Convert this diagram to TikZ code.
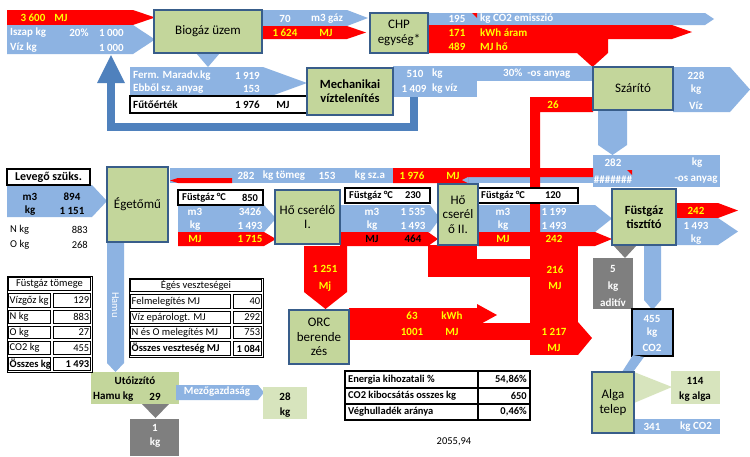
\documentclass[tikz,border=0pt]{standalone}
\usepackage{fontspec}
\setmainfont{Carlito}
\definecolor{FlowBlue}{HTML}{8DB3E2}
\definecolor{FlowRed}{HTML}{FF0000}
\definecolor{BoxFill}{HTML}{C3D69B}
\definecolor{BoxEdge}{HTML}{385D8A}
\definecolor{LoopBlue}{HTML}{4F81BD}
\definecolor{PaleGreen}{HTML}{D7E4BD}
\definecolor{AshGray}{HTML}{7F7F7F}
\definecolor{TextYellow}{HTML}{FFFF00}
\newcommand\flowR[6]{\fill[#1] (#2,#3) -- (#4,#3) -- (#6,{(#3+#5)/2}) -- (#4,#5) -- (#2,#5) -- cycle;}
\newcommand\flowD[6]{\fill[#1] (#2,#3) -- (#4,#3) -- (#4,#5) -- ({(#2+#4)/2},#6) -- (#2,#5) -- cycle;}
\begin{document}
\begin{tikzpicture}[
    x=1pt, y=-1pt,
    proc/.style={
      draw=BoxEdge,
      line width=1.6pt,
      fill=BoxFill,
      align=center,
      inner sep=1pt,
      font=\fontsize{13}{14.5}\selectfont
    },
    frame/.style={draw=black, line width=2pt, fill=white},
    tcell/.style={draw=black, line width=0.6pt},
    lab/.style={inner sep=0pt, font=\fontsize{11}{12}\selectfont\bfseries},
    wl/.style={lab, text=white},
    yl/.style={lab, text=TextYellow},
    kl/.style={lab, text=black},
    tl/.style={inner sep=0pt, font=\fontsize{10.5}{12}\selectfont},
    tb/.style={tl, font=\fontsize{10.5}{12}\selectfont\bfseries},
    kpi/.style={kl, font=\fontsize{10.5}{12}\selectfont\bfseries},
    deg/.style={kl, font=\fontsize{10.5}{12}\selectfont\bfseries}
  ]
  \fill[white] (0,0) rectangle (750,456);
  \path[use as bounding box] (0,0) rectangle (750,456);

  % sludge input and biogas plant
  \flowR{FlowRed}{7}{10}{133}{25}{155}
  \flowR{FlowBlue}{7}{25}{133}{54}{155}
  \flowR{FlowBlue}{262}{10}{347}{26}{368}
  \flowR{FlowRed}{262}{26}{347}{39}{366}
  \flowR{FlowBlue}{428}{13}{705}{25}{714}
  \fill[FlowRed] (428,25) -- (672,25) -- (692,32) -- (672,39) -- (608,39) -- (608,53)
    -- (592.5,67) -- (577,53) -- (428,53) -- cycle;
  \fill[FlowRed] (472,13) -- (477,13) -- (477,18) -- cycle;
  \fill[FlowBlue] (196,53) -- (220,53) -- (208,67) -- cycle;
  \flowR{FlowBlue}{130}{67}{263}{99}{307}
  \draw[frame] (130,96) rectangle (307,113);
  \fill[FlowBlue] (393,66) rectangle (593,81);
  \fill[FlowBlue] (393,81) rectangle (477,97);
  \draw[LoopBlue, line width=8pt] (414,97) -- (414,127) -- (111,127) -- (111,82);
  \fill[LoopBlue] (97,83) -- (125,83) -- (111,55) -- cycle;

  % dryer
  \flowR{FlowBlue}{673}{67}{730}{112}{750}
  \flowD{FlowBlue}{598}{110}{627}{145}{155}
  \fill[FlowBlue] (593,155) rectangle (720,187);
  \fill[FlowRed] (627,170) -- (632,170) -- (632,175) -- cycle;

  % feed of the incinerator
  \fill[FlowBlue] (170,168) rectangle (593,183);
  \fill[FlowRed] (393,168) -- (593,168) -- (593,177) -- (468,177) -- (468,183) -- (393,183) -- cycle;
  \fill[FlowBlue] (468,177) -- (462,180) -- (468,183) -- cycle;
  \fill[FlowRed] (232,178) -- (178,178) -- (170,180.5) -- (178,183) -- (232,183) -- cycle;
  \flowR{FlowBlue}{7}{185}{92}{217}{107}
  \draw[frame] (7,169) rectangle (90,185);

  % flue gas line
  \flowR{FlowBlue}{178}{205}{264}{232}{276}
  \flowR{FlowRed}{178}{232}{264}{246}{276}
  \flowR{FlowBlue}{340}{205}{430}{232}{440}
  \flowR{FlowRed}{340}{232}{428}{246}{438}
  \flowR{FlowBlue}{478}{205}{595}{232}{612}
  \flowR{FlowRed}{478}{232}{595}{246}{612}
  \fill[FlowRed] (593,97) -- (530,97) -- (530,246) -- (540,246) -- (540,112) -- (593,112) -- cycle;
  \draw[frame] (178,190) rectangle (263,205);
  \draw[frame] (345,188) rectangle (430,203);
  \draw[frame] (477,188) rectangle (578,203);
  \flowR{FlowRed}{676}{203}{718}{218}{738}
  \flowR{FlowBlue}{676}{218}{718}{245}{738}

  % heat recovery
  \flowD{FlowRed}{304}{246}{347}{292}{309}
  \fill[FlowRed] (428,245) rectangle (477,277);
  \fill[FlowRed] (428,259) rectangle (578,277);
  \fill[FlowRed] (530,245) rectangle (578,355);
  \fill[FlowRed] (578,322) -- (592,338) -- (578,355) -- cycle;
  \fill[FlowRed] (349,323) rectangle (530,340);
  \fill[FlowRed] (349,308) -- (477,308) -- (477,304) -- (497,315) -- (477,326) -- (477,323)
    -- (349,323) -- cycle;

  % cleaning and algae
  \fill[AshGray] (613,245) -- (637,245) -- (625,258) -- cycle;
  \fill[AshGray] (593,258) rectangle (633,309);
  \flowD{FlowBlue}{644}{245}{661}{300}{310}
  \draw[frame, fill=FlowBlue] (632,309) rectangle (673,356);
  \fill[FlowBlue] (633,355) -- (644,357) -- (633,372) -- (622,372) -- cycle;
  \fill[PaleGreen] (634,372) -- (672,387) -- (634,403) -- cycle;
  \fill[PaleGreen] (671,371) rectangle (720,404);
  \fill[FlowBlue] (633,419) rectangle (720,434);

  % ash line
  \flowD{FlowBlue}{107}{242}{124}{363}{372}
  \node[fill=BoxFill, minimum width=88pt, minimum height=32pt, inner sep=0pt] (utoizz) at (135,388) {};
  \flowR{FlowBlue}{176}{385}{258}{400}{264}
  \node[fill=PaleGreen, minimum width=44pt, minimum height=32pt, inner sep=0pt] (agribox) at (285,403) {};
  \fill[AshGray] (142,404) -- (169,404) -- (155.5,418) -- cycle;
  \fill[AshGray] (130,419) rectangle (179,456);

  % tables
  \draw[tcell] (7,276) rectangle (92,372);
  \draw[tcell] (8.6,277.6) rectangle (90.4,290.4);
  \foreach \ya/\yb in {292/309,309/325,325/340,340/356,356/372} {
    \draw[tcell] (8.6,\ya+1.6) rectangle (50.4,\yb-1.6);
    \draw[tcell] (53.6,\ya+1.6) rectangle (90.4,\yb-1.6);
  }
  \draw[tcell] (129,278) rectangle (263,357);
  \draw[tcell] (130.6,279.6) rectangle (261.4,291.4);
  \foreach \ya/\yb in {293/310,310/325,325/340,340/357} {
    \draw[tcell] (130.6,\ya+1.6) rectangle (230.4,\yb-1.6);
    \draw[tcell] (233.6,\ya+1.6) rectangle (261.4,\yb-1.6);
  }
  \foreach \ya/\yb in {371/388,388/404,404/420} {
    \draw[frame] (345,\ya) rectangle (478,\yb);
    \draw[frame] (478,\ya) rectangle (530,\yb);
  }

  % units
  \node[proc, minimum width=108pt, minimum height=43pt] (biogaz) at (208,31.5) {Biogáz üzem};
  \node[proc, minimum width=58pt, minimum height=40pt] (chp) at (399,33) {CHP\\egység*};
  \node[proc, minimum width=86pt, minimum height=47pt, font=\fontsize{12.5}{14}\selectfont\bfseries] (mech) at (350,91.5) {Mechanikai\\víztelenítés};
  \node[proc, minimum width=80pt, minimum height=43pt] (szarito) at (633,88.5) {Szárító};
  \node[proc, minimum width=61pt, minimum height=75pt] (egeto) at (137.5,204.5) {Égetőmű};
  \node[proc, minimum width=65pt, minimum height=54pt] (hocsA) at (307.5,217) {Hő cserélő\\I.};
  \node[proc, minimum width=40pt, minimum height=61pt] (hocsB) at (458,214.5) {Hő\\cserél\\ő II.};
  \node[proc, minimum width=64pt, minimum height=56pt, font=\fontsize{12.5}{14}\selectfont\bfseries] (tiszt) at (644,217) {Füstgáz\\tisztító};
  \node[proc, minimum width=60pt, minimum height=54pt] (orc) at (319,337) {ORC\\berende\\zés};
  \node[proc, minimum width=42pt, minimum height=61pt] (alga) at (613,402.5) {Alga\\telep};

  % labels
  \node[yl] (srcE) at (33,18) {3 600};
  \node[yl] (srcEu) at (61,18) {MJ};
  \node[wl, anchor=west] (srcS) at (10,33) {Iszap kg};
  \node[wl] (srcSp) at (79,33) {20\%};
  \node[wl, anchor=east] (srcSv) at (124,33) {1 000};
  \node[wl, anchor=west] (srcW) at (10,48) {Víz kg};
  \node[wl, anchor=east] (srcWv) at (124,48) {1 000};
  \node[wl] (gasV) at (285,19) {70};
  \node[wl] (gasU) at (327,19) {m3 gáz};
  \node[yl] (gasE) at (285,33) {1 624};
  \node[yl] (gasEu) at (326,33) {MJ};
  \node[wl] (co2V) at (457,19) {195};
  \node[wl, anchor=west] (co2U) at (480,19) {kg CO2 emisszió};
  \node[yl] (elV) at (457,33) {171};
  \node[yl, anchor=west] (elU) at (480,33) {kWh áram};
  \node[yl] (heatV) at (457,47) {489};
  \node[yl, anchor=west] (heatU) at (480,47) {MJ hő};
  \node[wl, anchor=west] (fermL) at (133,76) {Ferm. Maradv.kg};
  \node[wl, anchor=east] (fermV) at (260,76) {1 919};
  \node[wl, anchor=west] (dryL) at (133,89) {Ebből sz. anyag};
  \node[wl, anchor=east] (dryV) at (260,89) {153};
  \node[kl, anchor=west] (calL) at (133,105) {Fűtőérték};
  \node[kl, anchor=east] (calV) at (260,105) {1 976};
  \node[kl] (calU) at (283,105) {MJ};
  \node[wl] (solV) at (415,74) {510};
  \node[wl, anchor=west] (solU) at (432,74) {kg};
  \node[wl] (watV) at (414,89) {1 409};
  \node[wl, anchor=west] (watU) at (432,89) {kg víz};
  \node[wl, anchor=west] (solP) at (503,74) {30\%~ -os anyag};
  \node[wl] (vapV) at (696,76) {228};
  \node[wl] (vapU) at (696,90) {kg};
  \node[wl] (vapL) at (696,106) {Víz};
  \node[yl] (dryHeat) at (553,105) {26};
  \node[wl] (dryOut) at (613,163) {282};
  \node[wl] (dryOutU) at (697,163) {kg};
  \node[wl] (dryOutP) at (613,180) {\#\#\#\#\#\#\#};
  \node[wl] (dryOutL) at (696,180) {-os anyag};
  \node[wl] (feedM) at (246,176) {282};
  \node[wl] (feedMU) at (284,176) {kg tömeg};
  \node[wl] (feedS) at (327,176) {153};
  \node[wl] (feedSU) at (370,176) {kg sz.a};
  \node[yl] (feedE) at (412,176) {1 976};
  \node[yl] (feedEU) at (453,176) {MJ};
  \node[kl, font=\fontsize{12}{13}\selectfont\bfseries] (airL) at (48.5,177) {Levegő szüks.};
  \node[kl] (airVu) at (30,197) {m3};
  \node[kl] (airV) at (72,197) {894};
  \node[kl] (airMu) at (30,211) {kg};
  \node[kl] (airM) at (72,211) {1 151};
  \node[tl, anchor=west] (airN) at (10,230) {N kg};
  \node[tl, anchor=east] (airNv) at (88,230) {883};
  \node[tl, anchor=west] (airO) at (10,245) {O kg};
  \node[tl, anchor=east] (airOv) at (88,245) {268};
  \node[deg, anchor=west] (tAL) at (182,197.5) {Füstgáz °C};
  \node[deg] (tAV) at (250,197.5) {850};
  \node[wl] (gAVu) at (195,212) {m3};
  \node[wl] (gAV) at (250,212) {3426};
  \node[wl] (gAMu) at (195,226) {kg};
  \node[wl] (gAM) at (250,226) {1 493};
  \node[yl] (gAEu) at (195,239) {MJ};
  \node[yl] (gAE) at (250,239) {1 715};
  \node[deg, anchor=west] (tBL) at (349,195.5) {Füstgáz °C};
  \node[deg] (tBV) at (413,195.5) {230};
  \node[wl] (gBVu) at (372,212) {m3};
  \node[wl] (gBV) at (413,212) {1 535};
  \node[wl] (gBMu) at (372,226) {kg};
  \node[wl] (gBM) at (413,226) {1 493};
  \node[kl] (gBEu) at (372,239) {MJ};
  \node[kl] (gBE) at (413,239) {464};
  \node[deg, anchor=west] (tCL) at (481,195.5) {Füstgáz °C};
  \node[deg] (tCV) at (553,195.5) {120};
  \node[wl] (gCVu) at (503,212) {m3};
  \node[wl] (gCV) at (554,212) {1 199};
  \node[wl] (gCMu) at (503,226) {kg};
  \node[wl] (gCM) at (554,226) {1 493};
  \node[yl] (gCEu) at (503,239) {MJ};
  \node[yl] (gCE) at (554,239) {242};
  \node[yl] (cleanE) at (696,211) {242};
  \node[wl] (cleanM) at (696,226) {1 493};
  \node[wl] (cleanMu) at (696,240) {kg};
  \node[yl] (orcIn) at (325,269) {1 251};
  \node[yl] (orcInU) at (325,287) {Mj};
  \node[yl] (orcEl) at (412,316) {63};
  \node[yl] (orcElU) at (452,316) {kWh};
  \node[yl] (orcH) at (412,332) {1001};
  \node[yl] (orcHU) at (452,332) {MJ};
  \node[yl] (lossA) at (555,270) {216};
  \node[yl] (lossAU) at (555,286) {MJ};
  \node[yl] (lossB) at (554,332) {1 217};
  \node[yl] (lossBU) at (554,348) {MJ};
  \node[wl] (addV) at (613,269) {5};
  \node[wl] (addU) at (613,287) {kg};
  \node[wl] (addL) at (613,303) {aditív};
  \node[wl] (capV) at (652,319) {455};
  \node[wl] (capU) at (652,333) {kg};
  \node[wl] (capL) at (652,348) {CO2};
  \node[kl] (algaV) at (695,381) {114};
  \node[kl] (algaU) at (695,397) {kg alga};
  \node[wl] (restV) at (652,427) {341};
  \node[wl] (restU) at (696,427) {kg CO2};
  \node[wl, rotate=-90, font=\fontsize{10.5}{12}\selectfont] (ashL) at (115.5,305) {Hamu};
  \node[kl] (utoL) at (135,381) {Utóizzító};
  \node[kl, anchor=west] (utoA) at (93,397) {Hamu kg};
  \node[kl] (utoV) at (155,397) {29};
  \node[wl] (agri) at (217,392) {Mezőgazdaság};
  \node[kl] (agriV) at (285,397) {28};
  \node[kl] (agriU) at (285,413) {kg};
  \node[wl] (slagV) at (155,428) {1};
  \node[wl] (slagU) at (155,443) {kg};

  % table texts
  \node[tl] (fgH) at (49.5,284) {Füstgáz tömege};
  \node[tl, anchor=west] (fg1) at (9.5,300.5) {Vízgőz kg};
  \node[tl, anchor=east] (fg1v) at (89.5,300.5) {129};
  \node[tl, anchor=west] (fg2) at (9.5,317) {N kg};
  \node[tl, anchor=east] (fg2v) at (89.5,317) {883};
  \node[tl, anchor=west] (fg3) at (9.5,332.5) {O kg};
  \node[tl, anchor=east] (fg3v) at (89.5,332.5) {27};
  \node[tl, anchor=west] (fg4) at (9.5,348) {CO2 kg};
  \node[tl, anchor=east] (fg4v) at (89.5,348) {455};
  \node[tb, anchor=west] (fg5) at (9.5,364) {Összes kg};
  \node[tb, anchor=east] (fg5v) at (89.5,364) {1 493};
  \node[tl] (elH) at (196,285.5) {Égés veszteségei};
  \node[tl, anchor=west] (el1) at (131.5,301.5) {Felmelegítés MJ};
  \node[tl, anchor=east] (el1v) at (260.5,301.5) {40};
  \node[tl, anchor=west] (el2) at (131.5,317.5) {Víz epárologt. MJ};
  \node[tl, anchor=east] (el2v) at (260.5,317.5) {292};
  \node[tl, anchor=west] (el3) at (131.5,332.5) {N és O melegítés MJ};
  \node[tl, anchor=east] (el3v) at (260.5,332.5) {753};
  \node[tb, anchor=west] (el4) at (131.5,348.5) {Összes veszteség MJ};
  \node[tb, anchor=east] (el4v) at (260.5,348.5) {1 084};
  \node[kpi, anchor=west] (kpi1) at (348,379.5) {Energia kihozatali \%};
  \node[kpi, anchor=east] (kpi1v) at (527,379.5) {54,86\%};
  \node[kpi, anchor=west] (kpi2) at (348,396) {CO2 kibocsátás osszes kg};
  \node[kpi, anchor=east] (kpi2v) at (527,396) {650};
  \node[kpi, anchor=west] (kpi3) at (348,412) {Véghulladék aránya};
  \node[kpi, anchor=east] (kpi3v) at (527,412) {0,46\%};
  \node[tl] (total) at (454,442) {2055,94};
\end{tikzpicture}
\end{document}
